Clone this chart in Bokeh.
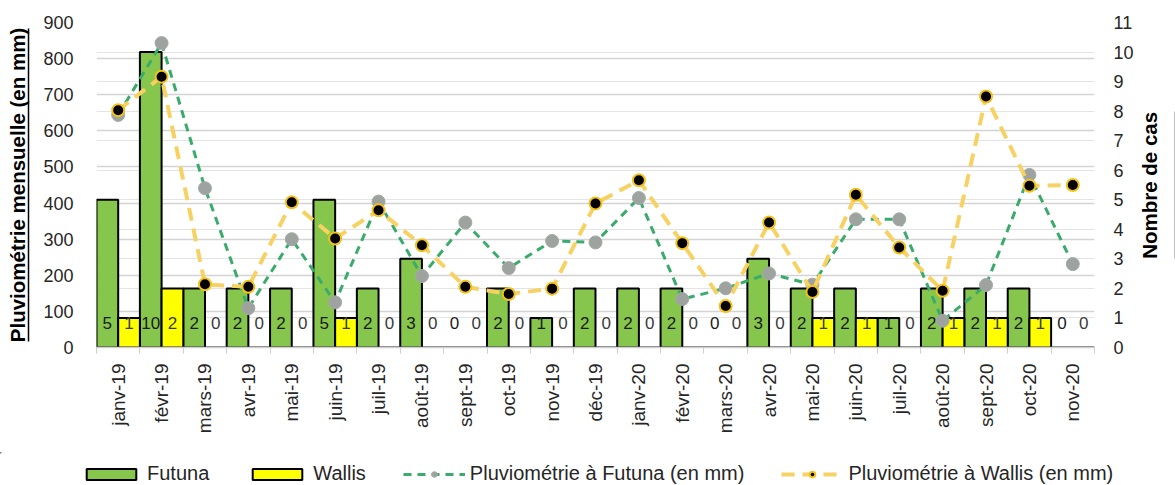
import math
from bokeh.plotting import figure
from bokeh.layouts import column
from bokeh.models import (Range1d, LinearAxis, FixedTicker, Grid, Legend, LegendItem,
                          ColumnDataSource, CDSView, IndexFilter)
from bokeh.transform import dodge
from bokeh.core.properties import value
from bokeh.embed import file_html
from bokeh.resources import INLINE

# ---------------- data ----------------
months = ["janv-19", "févr-19", "mars-19", "avr-19", "mai-19", "juin-19", "juil-19",
          "août-19", "sept-19", "oct-19", "nov-19", "déc-19", "janv-20", "févr-20",
          "mars-20", "avr-20", "mai-20", "juin-20", "juil-20", "août-20", "sept-20",
          "oct-20", "nov-20"]
futuna_cases = [5, 10, 2, 2, 2, 5, 2, 3, 0, 2, 1, 2, 2, 2, 0, 3, 2, 2, 1, 2, 2, 2, 0]
wallis_cases = [1, 2, 0, 0, 0, 1, 0, 0, 0, 0, 0, 0, 0, 0, 0, 0, 1, 1, 0, 1, 1, 1, 0]
futuna_rain_mm = [644, 843, 441, 109, 300, 125, 404, 198, 346, 220, 295, 291, 414, 134,
                  164, 205, 174, 355, 355, 74, 173, 478, 231]
wallis_rain_mm = [657, 750, 175, 168, 402, 302, 380, 283, 168, 148, 163, 399, 463, 289,
                  115, 346, 154, 423, 277, 157, 695, 448, 450]
rain_ticks = [0, 100, 200, 300, 400, 500, 600, 700, 800, 900]
case_ticks = [0, 1, 2, 3, 4, 5, 6, 7, 8, 9, 10, 11]
series_names = ["Futuna", "Wallis", "Pluviométrie à Futuna (en mm)",
                "Pluviométrie à Wallis (en mm)"]
left_title_text = "Pluviométrie mensuelle (en mm)"
right_title_text = "Nombre de cas"

FONT = "Liberation Sans"
GREEN = "#86c64c"
YELLOW = "#ffff00"
FUT_LINE = "#3aab6c"
WAL_LINE = "#f7d263"

n = len(months)
idx = list(range(n))
src = ColumnDataSource(dict(
    pos=idx, month=months,
    futuna=futuna_cases, wallis=wallis_cases,
    futuna_lbl=[str(v) for v in futuna_cases],
    wallis_lbl=[str(v) for v in wallis_cases],
    base=[0] * n,
    futuna_mm=futuna_rain_mm, wallis_mm=wallis_rain_mm,
))


def no_frame_align(fig):
    if "frame_align" in fig.properties():
        try:
            fig.frame_align = False
        except Exception:
            pass


p = figure(width=1175, height=452, output_backend="svg", toolbar_location=None,
           x_range=Range1d(-0.5, n - 0.5), y_range=Range1d(0, 900),
           min_border_left=96, min_border_right=75, min_border_top=22,
           min_border_bottom=105)
p.outline_line_color = None
p.background_fill_color = "white"
p.extra_y_ranges = {"cases": Range1d(0, 11)}
no_frame_align(p)


def blank_axis(ax):
    ax.ticker = FixedTicker(ticks=[])
    ax.axis_line_color = None
    ax.major_tick_line_color = None
    ax.minor_tick_line_color = None
    ax.major_tick_in = 0
    ax.major_tick_out = 0
    ax.minor_tick_in = 0
    ax.minor_tick_out = 0
    ax.major_label_standoff = 0


# ---------------- grids ----------------
p.xgrid.visible = False
p.ygrid.ticker = FixedTicker(ticks=rain_ticks)
p.ygrid.grid_line_color = "#d4d4d4"
p.ygrid.grid_line_width = 1.5
case_grid = Grid(dimension=1, ticker=FixedTicker(ticks=case_ticks), y_range_name="cases",
                 grid_line_color="#e4e4e4", grid_line_width=1.2)
p.add_layout(case_grid)

# ---------------- x axis ----------------
xa = p.xaxis[0]
xa.ticker = FixedTicker(ticks=idx, minor_ticks=[i - 0.5 for i in range(n + 1)])
xa.major_label_overrides = {i: m for i, m in zip(idx, months)}
xa.major_label_orientation = math.pi / 2
xa.major_tick_line_color = None
xa.major_tick_out = 0
xa.major_tick_in = 0
xa.minor_tick_line_color = "#cfcfcf"
xa.minor_tick_out = 6
xa.minor_tick_in = 0
xa.axis_line_color = "#cfcfcf"
xa.axis_line_width = 1.5
xa.major_label_standoff = 10
xa.major_label_text_font = FONT
xa.major_label_text_font_size = "19px"
xa.major_label_text_color = "#262626"

# ---------------- left axis (tick labels) ----------------
ya = p.yaxis[0]
ya.ticker = FixedTicker(ticks=rain_ticks)
ya.axis_line_color = None
ya.major_tick_line_color = None
ya.minor_tick_line_color = None
ya.major_tick_out = 0
ya.major_tick_in = 0
ya.major_label_standoff = 23
ya.major_label_text_font = FONT
ya.major_label_text_font_size = "18px"
ya.major_label_text_color = "#262626"

# spacer between tick labels and the underlined title (one white, empty tick)
left_gap = LinearAxis()
blank_axis(left_gap)
left_gap.ticker = FixedTicker(ticks=[450])
left_gap.major_label_overrides = {450: ""}
left_gap.major_tick_line_color = "white"
left_gap.major_tick_out = 12
p.add_layout(left_gap, "left")

# underlined title (axis line = underline)
left_title = LinearAxis()
blank_axis(left_title)
left_title.axis_line_color = "black"
left_title.axis_line_width = 1.5
left_title.bounds = (17, 883)
left_title.axis_label = left_title_text
left_title.axis_label_text_font = FONT
left_title.axis_label_text_font_size = "20.5px"
left_title.axis_label_text_font_style = "bold"
left_title.axis_label_text_color = "black"
left_title.axis_label_standoff = 0
p.add_layout(left_title, "left")

# ---------------- right axis ----------------
ra = LinearAxis(y_range_name="cases", ticker=FixedTicker(ticks=case_ticks))
ra.axis_line_color = None
ra.major_tick_line_color = None
ra.minor_tick_line_color = None
ra.major_tick_out = 0
ra.major_tick_in = 0
ra.major_label_standoff = 19
ra.major_label_text_font = FONT
ra.major_label_text_font_size = "18px"
ra.major_label_text_color = "#262626"
p.add_layout(ra, "right")

# right title drawn as a single rotated tick label (reads bottom to top),
# anchored where the text starts
right_title = LinearAxis(y_range_name="cases")
blank_axis(right_title)
right_title.ticker = FixedTicker(ticks=[3.0])
right_title.major_label_overrides = {3.0: right_title_text}
right_title.major_label_orientation = math.pi / 2
right_title.major_label_text_font = FONT
right_title.major_label_text_font_size = "20.5px"
right_title.major_label_text_font_style = "bold"
right_title.major_label_text_color = "black"
right_title.major_label_standoff = 13
p.add_layout(right_title, "right")

right_uline = LinearAxis(y_range_name="cases")
blank_axis(right_uline)
right_uline.axis_line_color = "black"
right_uline.axis_line_width = 1.5
right_uline.bounds = (3.0, 8.0)
p.add_layout(right_uline, "right")

# ---------------- bars ----------------
bar_style_f = dict(fill_color=GREEN, line_color="black", line_width=2)
bar_style_w = dict(fill_color=YELLOW, line_color="black", line_width=2)
p.vbar(x=dodge("pos", -0.25, range=p.x_range), top="futuna", width=0.5,
       source=src, y_range_name="cases", **bar_style_f)
p.vbar(x=dodge("pos", 0.25, range=p.x_range), top="wallis", width=0.5,
       source=src, y_range_name="cases", **bar_style_w)

p.text(x=dodge("pos", -0.25, range=p.x_range), y="base", text="futuna_lbl", source=src,
       y_range_name="cases", y_offset=-25, text_align="center", text_baseline="middle",
       text_font=value(FONT), text_font_size="17px", text_color="#1a1a1a")
p.text(x=dodge("pos", 0.25, range=p.x_range), y="base", text="wallis_lbl", source=src,
       y_range_name="cases", y_offset=-25, text_align="center", text_baseline="middle",
       text_font=value(FONT), text_font_size="17px", text_color="#3a3a3a")

# ---------------- lines ----------------
line_style_f = dict(line_color=FUT_LINE, line_width=3, line_dash="8 6")
mark_style_f = dict(marker="circle", size=13, fill_color="#9ea39f",
                    line_color="#a3aba6", line_width=1)
line_style_w = dict(line_color=WAL_LINE, line_width=4, line_dash="13 8")
mark_style_w = dict(marker="circle", size=12, fill_color="black",
                    line_color="#f2c21b", line_width=2)
p.line(x="pos", y="futuna_mm", source=src, **line_style_f)
p.scatter(x="pos", y="futuna_mm", source=src, **mark_style_f)
p.line(x="pos", y="wallis_mm", source=src, **line_style_w)
p.scatter(x="pos", y="wallis_mm", source=src, **mark_style_w)

# ---------------- legend strip (own figure, below the chart) ----------------
# same series (first point only), in ranges that keep the marks out of view
lg = figure(width=1175, height=33, output_backend="svg", toolbar_location=None,
            x_range=Range1d(n + 1, n + 2), y_range=Range1d(-2, -1),
            x_axis_type=None, y_axis_type=None, min_border=0)
lg.outline_line_color = None
lg.xgrid.visible = False
lg.ygrid.visible = False
no_frame_align(lg)


def first_only():
    return CDSView(filter=IndexFilter(indices=[0]))


r_bf = lg.vbar(x="pos", top="futuna", width=0.5, source=src, view=first_only(),
               **bar_style_f)
r_bw = lg.vbar(x="pos", top="wallis", width=0.5, source=src, view=first_only(),
               **bar_style_w)
r_lf = lg.line(x="pos", y="futuna_mm", source=src, view=first_only(), **line_style_f)
r_mf = lg.scatter(x="pos", y="futuna_mm", source=src, view=first_only(), **mark_style_f)
r_lw = lg.line(x="pos", y="wallis_mm", source=src, view=first_only(), **line_style_w)
r_mw = lg.scatter(x="pos", y="wallis_mm", source=src, view=first_only(), **mark_style_w)

legend = Legend(items=[
    LegendItem(label=series_names[0], renderers=[r_bf]),
    LegendItem(label=series_names[1], renderers=[r_bw]),
    LegendItem(label=series_names[2], renderers=[r_lf, r_mf]),
    LegendItem(label=series_names[3], renderers=[r_lw, r_mw]),
], orientation="horizontal", location=(80, 0))
legend.glyph_width = 62
legend.glyph_height = 14
legend.label_standoff = 5
legend.spacing = 37
legend.padding = 0
legend.margin = 0
legend.border_line_color = None
legend.background_fill_alpha = 0
legend.label_text_font = FONT
legend.label_text_font_size = "20px"
legend.label_text_color = "#262626"
legend.label_height = 20
lg.add_layout(legend, "center")

layout = column(p, lg, spacing=0)
open("out.html", "w").write(file_html(layout, INLINE))
